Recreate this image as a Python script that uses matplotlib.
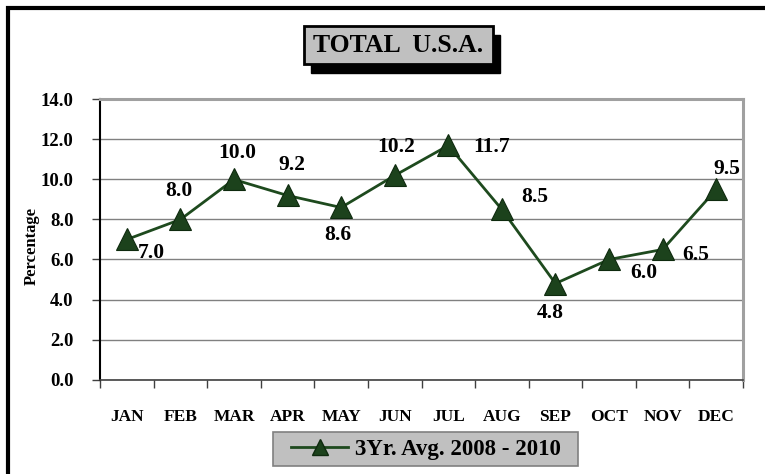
import matplotlib
matplotlib.use("Agg")
import matplotlib.pyplot as plt
from matplotlib.patches import Rectangle
from matplotlib.lines import Line2D

months = ["JAN", "FEB", "MAR", "APR", "MAY", "JUN", "JUL", "AUG", "SEP", "OCT", "NOV", "DEC"]
values = [7.0, 8.0, 10.0, 9.2, 8.6, 10.2, 11.7, 8.5, 4.8, 6.0, 6.5, 9.5]
series_name = "3Yr. Avg. 2008 - 2010"
title_text = "TOTAL  U.S.A."
y_ticks = [0, 2, 4, 6, 8, 10, 12, 14]

# label offsets (pixels) relative to each point
label_offsets = [(25, -13), (-2, 29), (3, 27), (4, 30), (-3, -28), (1, 28),
                 (43, -2), (33, 12), (-5, -30), (35, -14), (33, -6), (11, 20)]

W, H = 765, 474
SERIF = ["Liberation Serif", "DejaVu Serif"]
plt.rcParams["font.family"] = SERIF
plt.rcParams["font.weight"] = "bold"

fig = plt.figure(figsize=(W / 100, H / 100), dpi=100)

def fx(px):
    return px / W

def fy(py):
    return 1 - py / H

# outer frame
fig.patches.append(Rectangle((fx(7.5), fy(500)), fx(900), fy(7.5) - fy(500),
                             transform=fig.transFigure, fill=False,
                             edgecolor="black", linewidth=3, zorder=0))

left, right, top, bottom = 100, 743, 99.5, 379.5
ax = fig.add_axes([fx(left), fy(bottom), fx(right - left), fy(top) - fy(bottom)])

line_color = "#1e4a1e"
ax.plot(range(len(values)), values, color=line_color, linewidth=2,
        marker="^", markersize=16.5, markerfacecolor="#1c421c",
        markeredgecolor="#0e2a0e", markeredgewidth=0.8, zorder=5, clip_on=False)

for i, (v, off) in enumerate(zip(values, label_offsets)):
    ax.annotate(f"{v:.1f}", (i, v), xytext=off, textcoords="offset pixels",
                ha="center", va="center", fontsize=15.5, fontweight="bold",
                color="black", zorder=6)

ax.set_xlim(-0.5, len(months) - 0.5)
ax.set_ylim(0, 14)
ax.set_yticks(y_ticks)
ax.set_yticklabels([f"{t:.1f}" for t in y_ticks], fontsize=13.5, fontweight="bold")
ax.set_xticks(range(len(months)))
ax.set_xticklabels(months, fontsize=12.5, fontweight="bold")
ax.set_xticks([i - 0.5 for i in range(len(months) + 1)], minor=True)
ax.tick_params(axis="x", which="major", length=0, pad=21)
ax.tick_params(axis="x", which="minor", length=6, width=1, color="#404040", direction="out")
ax.tick_params(axis="y", which="major", length=6, width=1, color="#404040", direction="out", pad=13)

ax.grid(axis="y", color="#808080", linewidth=1)
ax.set_axisbelow(True)
for s in ["top", "right"]:
    ax.spines[s].set_color("#a0a0a0")
    ax.spines[s].set_linewidth(2.2)
ax.spines["left"].set_color("black")
ax.spines["left"].set_linewidth(1.5)
ax.spines["bottom"].set_color("#404040")
ax.spines["bottom"].set_linewidth(1.2)

fig.text(fx(32), fy(246), "Percentage", rotation=90, ha="center", va="center",
         fontsize=12, fontweight="bold")

# title box with shadow
bx0, by0, bx1, by1 = 304, 26, 493, 64
fig.patches.append(Rectangle((fx(bx0 + 7), fy(by1 + 9)), fx(bx1 - bx0), fy(by0) - fy(by1),
                             transform=fig.transFigure, facecolor="black",
                             edgecolor="black", zorder=1))
fig.patches.append(Rectangle((fx(bx0), fy(by1)), fx(bx1 - bx0), fy(by0) - fy(by1),
                             transform=fig.transFigure, facecolor="#c0c0c0",
                             edgecolor="black", linewidth=2, zorder=2))
fig.text(fx((bx0 + bx1) / 2), fy((by0 + by1) / 2 + 1), title_text, ha="center", va="center",
         fontsize=18.5, fontweight="bold", zorder=3)

# legend box
lx0, ly0, lx1, ly1 = 273, 432, 578, 466
fig.patches.append(Rectangle((fx(lx0), fy(ly1)), fx(lx1 - lx0), fy(ly0) - fy(ly1),
                             transform=fig.transFigure, facecolor="#c0c0c0",
                             edgecolor="#808080", linewidth=1.2, zorder=1))
handle = Line2D([], [], color=line_color, linewidth=2, marker="^", markersize=12,
                markerfacecolor="#1c421c", markeredgecolor="#0e2a0e")
leg = fig.legend([handle], [series_name], loc="center left",
                 bbox_to_anchor=(fx(lx0 + 18), fy((ly0 + ly1) / 2)), frameon=False,
                 prop={"family": SERIF, "weight": "bold", "size": 16.5},
                 handlelength=2.5, borderpad=0, handletextpad=0.3,
                 borderaxespad=0)
leg.set_zorder(3)

fig.savefig("out.png", dpi=100)
